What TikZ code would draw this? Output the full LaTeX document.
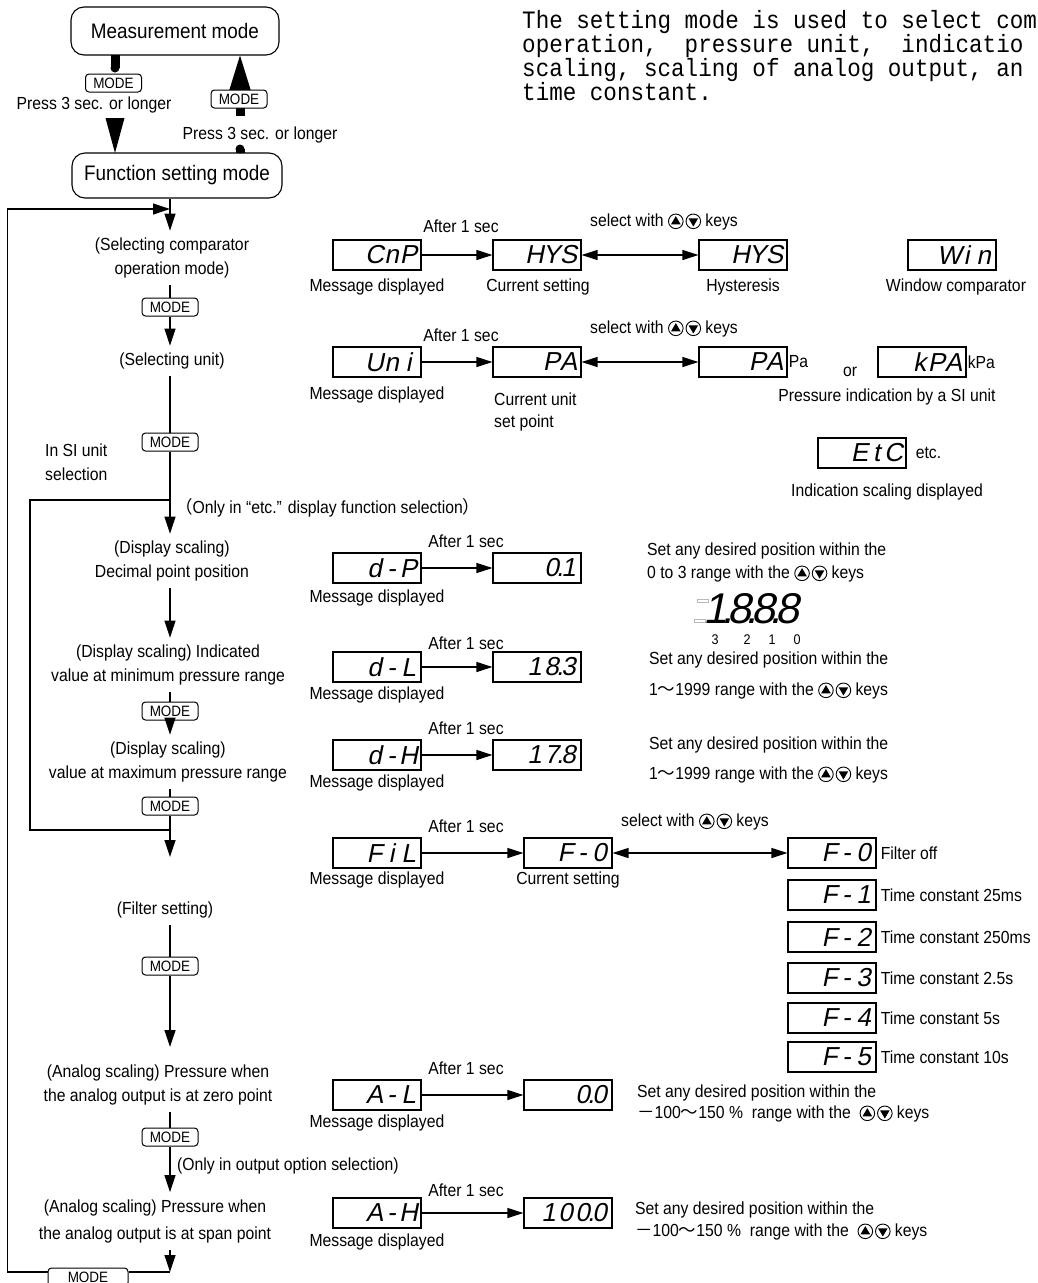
\documentclass[tikz,border=0pt]{standalone}
\usepackage{fontspec}
\setmainfont{Liberation Sans}[FakeStretch=0.9]
\newfontfamily\segfont{Liberation Sans}[FakeSlant=0.2]
\newfontfamily\cjkfont{Noto Sans CJK JP}
\newfontfamily\jmono{Liberation Mono}[FakeStretch=0.903]
\usetikzlibrary{arrows.meta}
\newcommand\sgc[1]{\makebox[17pt][c]{#1}}
\newcommand\sgd{\makebox[0pt][c]{.}}
\newcommand\bgc[1]{\makebox[24pt][c]{#1}}
\newcommand\updnkeys{\tikz[baseline={(0pt,-5.5pt)},x=1pt,y=1pt,line width=0.9pt]{%
  \draw (0,0) circle[radius=7.3];
  \fill (-4.8,-3) -- (4.8,-3) -- (0,5.2) -- cycle;
  \draw (17.5,0) circle[radius=7.3];
  \fill (12.7,3) -- (22.3,3) -- (17.5,-5.2) -- cycle;}}
\begin{document}
\begin{tikzpicture}[x=1pt,y=-1pt,
  lab/.style={font=\fontsize{17.5}{24}\selectfont, inner sep=1pt, align=center},
  flowlab/.style={lab, inner xsep=1pt, inner ysep=7pt},
  disp/.style={draw, line width=1.1pt, minimum width=88pt, minimum height=30pt, inner sep=0pt, text width=80pt, align=right, font=\segfont\fontsize{26}{26}\selectfont},
  modebox/.style={draw, line width=1pt, rounded corners=3.5pt, fill=white, minimum width=56pt, minimum height=18pt, inner sep=0pt, font=\fontsize{15}{15}\selectfont},
  modestate/.style={draw, line width=1.1pt, rounded corners=13pt, inner sep=0pt, font=\fontsize{21}{21}\selectfont},
  flow/.style={line width=1.2pt},
  flowarr/.style={flow, -{Triangle[length=17pt,width=11pt]}},
  rarr/.style={line width=1.2pt, -{Triangle[length=16pt,width=10pt]}},
  darr/.style={line width=1.2pt, {Triangle[length=16pt,width=10pt]}-{Triangle[length=16pt,width=10pt]}},
  para/.style={font=\jmono\fontsize{25}{24}\selectfont, inner sep=0pt, anchor=base west},
  small/.style={font=\fontsize{14}{14}\selectfont, inner sep=0pt},
  bigdisp/.style={font=\segfont\fontsize{43}{43}\selectfont, inner sep=0pt}
]
\useasboundingbox (0,0) rectangle (1037,1283);
\fill[white] (0,0) rectangle (1037,1283);

% ---------- top states ----------
\node[modestate, minimum width=208pt, minimum height=48pt] (meas) at (175,31) {Measurement mode};
\node[modestate, minimum width=210pt, minimum height=45pt] (fsm) at (177,175.5) {Function setting mode};

% thick arrows
\fill (110.5,55) rectangle (119.5,68);
\fill (115,68) circle[radius=4.5];
\fill (105.5,118) -- (124.5,118) -- (115,153) -- cycle;
\fill (229,91) -- (251,91) -- (240,55.5) -- cycle;
\fill (235.5,89) rectangle (244.5,116);
\fill (235.5,149) rectangle (244.5,153);
\fill (240,149) circle[radius=4.5];

\node[modebox] (mtl) at (113.5,83) {MODE};
\node[modebox] (mtr) at (239,99) {MODE};
\node[lab] (ptl) at (94,105) {Press 3 sec. or longer};
\node[lab] (ptr) at (260,135) {Press 3 sec. or longer};

% ---------- paragraph (cut by the right edge, as printed) ----------
\begin{scope}
\clip (0,0) rectangle (1037,1283);
\node[para] (p1) at (522,28) {The setting mode is used to select com};
\node[para] (p2) at (522,52) {operation,\ \ pressure unit,\ \ indicatio};
\node[para] (p3) at (522,76) {scaling, scaling of analog output, an};
\node[para] (p4) at (522,100) {time constant.};
\end{scope}

% ---------- flow labels ----------
\node[flowlab] (cmp) at (172,258) {(Selecting comparator\\operation mode)};
\node[modebox] (m1) at (170,307) {MODE};
\node[flowlab] (unit) at (172,361) {(Selecting unit)};
\node[modebox] (m2) at (170,442) {MODE};
\node[lab, align=left, anchor=west] (si) at (44,462) {In SI unit\\selection};
\node[lab, anchor=west] (onlyetc) at (174,508) {{\cjkfont （}Only in “etc.” display function selection{\cjkfont ）}};
\node[flowlab] (dp) at (172,561) {(Display scaling)\\Decimal point position};
\node[flowlab] (dl) at (168,665) {(Display scaling) Indicated\\value at minimum pressure range};
\node[modebox] (m3) at (170,711) {MODE};
\node[flowlab] (dh) at (168,762) {(Display scaling)\\value at maximum pressure range};
\node[modebox] (m4) at (170,806) {MODE};
\node[flowlab] (fs) at (165,910) {(Filter setting)};
\node[modebox] (m5) at (170,966) {MODE};
\node[flowlab] (al) at (158,1085) {(Analog scaling) Pressure when\\the analog output is at zero point};
\node[modebox] (m6) at (170,1137) {MODE};
\node[lab, anchor=west] (onlyout) at (176,1166) {(Only in output option selection)};
\node[flowlab, font=\fontsize{17.5}{27}\selectfont] (ah) at (155,1221) {(Analog scaling) Pressure when\\the analog output is at span point};
\node[modebox, minimum width=80pt] (mb) at (88,1277) {MODE};

% ---------- flow connectors ----------
\coordinate (ft) at (170,857);
\coordinate (at) at (170,1047);
\coordinate (cb) at (170,1272);
\coordinate (cl) at (7.5,1272);
\coordinate (ct) at (7.5,209);
\coordinate (cm) at (170,209);
\coordinate (j1) at (170,500);
\coordinate (i1) at (30,500);
\coordinate (i2) at (30,830);
\coordinate (j2) at (170,830);

\draw[flowarr] (fsm.south -| m1) -- (m1 |- cmp.north);
\draw[flow] (m1 |- cmp.south) -- (m1.north);
\draw[flowarr] (m1.south) -- (m1 |- unit.north);
\draw[flow] (m2 |- unit.south) -- (m2.north);
\draw[flowarr] (m2.south) -- (m2 |- dp.north);
\draw[flowarr] (m2 |- dp.south) -- (m3 |- dl.north);
\draw[flow] (m3 |- dl.south) -- (m3.north);
\draw[flowarr] (m3.south) -- (m3 |- dh.north);
\draw[flow] (m4 |- dh.south) -- (m4.north);
\draw[flowarr] (m4.south) -- (ft);
\draw[flow] (m5 |- fs.south) -- (m5.north);
\draw[flowarr] (m5.south) -- (at);
\draw[flow] (m6 |- al.south) -- (m6.north);
\draw[flowarr] (m6.south) -- (m6 |- ah.north);
\draw[flowarr] (cb |- ah.south) -- (cb);
\draw[flow] (cb) -- (cb -| mb.east);
\draw[flowarr] (cb -| mb.west) -- (cl) -- (ct) -- (cm);
\draw[flow] (j1) -- (i1) -- (i2) -- (j2);

% ---------- row 1 ----------
\node[disp] (cnp) at (377,255) {\sgc{C}\sgc{n}\sgc{P}};
\node[disp] (hys1) at (537,255) {\sgc{H}\sgc{Y}\sgc{S}};
\node[disp] (hys2) at (743,255) {\sgc{H}\sgc{Y}\sgc{S}};
\node[disp] (win) at (952,255) {\sgc{W}\sgc{i}\sgc{n}};
\draw[rarr] (cnp) -- (hys1);
\draw[darr] (hys1) -- (hys2);
\node[lab] (a1) at (461,226) {After 1 sec};
\node[lab] (s1) at (664,222) {select with \updnkeys\ keys};
\node[lab] (md1) at (377,287) {Message displayed};
\node[lab] (cs1) at (538,287) {Current setting};
\node[lab] (hy) at (743,287) {Hysteresis};
\node[lab] (wc) at (956,287) {Window comparator};

% ---------- row 2 ----------
\node[disp] (uni) at (377,362) {\sgc{U}\sgc{n}\sgc{i}};
\node[disp] (pa1) at (537,362) {\sgc{P}\sgc{A}};
\node[disp] (pa2) at (743,362) {\sgc{P}\sgc{A}};
\node[lab, anchor=west] (pau) at (pa2.east) {Pa};
\node[lab] (or) at (850,372) {or};
\node[disp] (kpa) at (922,362) {\sgc{k}\sgc{P}\sgc{A}};
\node[lab, anchor=west] (kpau) at (kpa.east) {kPa};
\draw[rarr] (uni) -- (pa1);
\draw[darr] (pa1) -- (pa2);
\node[lab] (a2) at (461,335) {After 1 sec};
\node[lab] (s2) at (664,329) {select with \updnkeys\ keys};
\node[lab] (md2) at (377,395) {Message displayed};
\node[lab, align=left, anchor=north west, font=\fontsize{17.5}{22}\selectfont] (cu) at (493,392) {Current unit\\set point};
\node[lab] (psi) at (887,397) {Pressure indication by a SI unit};
\node[disp] (etcd) at (862,453) {\sgc{E}\sgc{t}\sgc{C}};
\node[lab, anchor=west, xshift=8pt] (etcl) at (etcd.east) {etc.};
\node[lab] (isd) at (887,492) {Indication scaling displayed};

% ---------- row 3 ----------
\node[disp] (dpd) at (377,568) {\sgc{d}\sgc{-}\sgc{P}};
\node[disp] (v01) at (537,568) {\sgc{0}\sgd\sgc{1}};
\draw[rarr] (dpd) -- (v01);
\node[lab] (a3) at (466,541) {After 1 sec};
\node[lab] (md3) at (377,598) {Message displayed};
\node[lab, anchor=west] (t3a) at (646,551) {Set any desired position within the};
\node[lab, anchor=west] (t3b) at (646,574) {0 to 3 range with the \updnkeys\ keys};
\draw[gray!55, line width=0.6pt] (697,599.5) rectangle (708,602.5);
\draw[gray!55, line width=0.6pt] (694,619.5) rectangle (705,622.5);
\node[bigdisp, anchor=west] (bigd) at (703,609) {\bgc{1}\sgd\bgc{8}\sgd\bgc{8}\sgd\bgc{8}};
\node[small] (d3) at (715,640) {3};
\node[small] (d2) at (747,640) {2};
\node[small] (d1) at (772,640) {1};
\node[small] (d0) at (797,640) {0};

% ---------- row 4 ----------
\node[disp] (dld) at (377,667) {\sgc{d}\sgc{-}\sgc{L}};
\node[disp] (v183) at (537,667) {\sgc{1}\sgc{8}\sgd\sgc{3}};
\draw[rarr] (dld) -- (v183);
\node[lab] (a4) at (466,643) {After 1 sec};
\node[lab] (md4) at (377,695) {Message displayed};
\node[lab, anchor=west] (t4a) at (648,660) {Set any desired position within the};
\node[lab, anchor=west] (t4b) at (648,691) {1{\cjkfont ～}1999 range with the \updnkeys\ keys};

% ---------- row 5 ----------
\node[disp] (dhd) at (377,755) {\sgc{d}\sgc{-}\sgc{H}};
\node[disp] (v178) at (537,755) {\sgc{1}\sgc{7}\sgd\sgc{8}};
\draw[rarr] (dhd) -- (v178);
\node[lab] (a5) at (466,728) {After 1 sec};
\node[lab] (md5) at (377,783) {Message displayed};
\node[lab, anchor=west] (t5a) at (648,745) {Set any desired position within the};
\node[lab, anchor=west] (t5b) at (648,775) {1{\cjkfont ～}1999 range with the \updnkeys\ keys};

% ---------- row 6 (filter) ----------
\node[disp] (fil) at (377,853) {\sgc{F}\sgc{i}\sgc{L}};
\node[disp] (f0c) at (568,853) {\sgc{F}\sgc{-}\sgc{0}};
\draw[rarr] (fil) -- (f0c);
\node[lab] (a6) at (466,826) {After 1 sec};
\node[lab] (s6) at (695,822) {select with \updnkeys\ keys};
\node[lab] (md6) at (377,880) {Message displayed};
\node[lab] (cs6) at (568,880) {Current setting};
\node[disp] (f0) at (832,853) {\sgc{F}\sgc{-}\sgc{0}};
\node[disp] (f1) at (832,895) {\sgc{F}\sgc{-}\sgc{1}};
\node[disp] (f2) at (832,937) {\sgc{F}\sgc{-}\sgc{2}};
\node[disp] (f3) at (832,978) {\sgc{F}\sgc{-}\sgc{3}};
\node[disp] (f4) at (832,1018) {\sgc{F}\sgc{-}\sgc{4}};
\node[disp] (f5) at (832,1057) {\sgc{F}\sgc{-}\sgc{5}};
\draw[darr] (f0c) -- (f0);
\node[lab, anchor=west, xshift=3pt] (l0) at (f0.east) {Filter off};
\node[lab, anchor=west, xshift=3pt] (l1) at (f1.east) {Time constant 25ms};
\node[lab, anchor=west, xshift=3pt] (l2) at (f2.east) {Time constant 250ms};
\node[lab, anchor=west, xshift=3pt] (l3) at (f3.east) {Time constant 2.5s};
\node[lab, anchor=west, xshift=3pt] (l4) at (f4.east) {Time constant 5s};
\node[lab, anchor=west, xshift=3pt] (l5) at (f5.east) {Time constant 10s};

% ---------- row 7 ----------
\node[disp] (ald) at (377,1095) {\sgc{A}\sgc{-}\sgc{L}};
\node[disp] (v00) at (568,1095) {\sgc{0}\sgd\sgc{0}};
\draw[rarr] (ald) -- (v00);
\node[lab] (a7) at (466,1068) {After 1 sec};
\node[lab] (md7) at (377,1123) {Message displayed};
\node[lab, anchor=west] (t7a) at (636,1093) {Set any desired position within the};
\node[lab, anchor=west] (t7b) at (636,1114) {{\cjkfont －}100{\cjkfont ～}150 \%\ \ range with the\ \ \updnkeys\ keys};

% ---------- row 8 ----------
\node[disp] (ahd) at (377,1213) {\sgc{A}\sgc{-}\sgc{H}};
\node[disp] (v1000) at (568,1213) {\sgc{1}\sgc{0}\sgc{0}\sgd\sgc{0}};
\draw[rarr] (ahd) -- (v1000);
\node[lab] (a8) at (466,1190) {After 1 sec};
\node[lab] (md8) at (377,1242) {Message displayed};
\node[lab, anchor=west] (t8a) at (634,1210) {Set any desired position within the};
\node[lab, anchor=west] (t8b) at (634,1232) {{\cjkfont －}100{\cjkfont ～}150 \%\ \ range with the\ \ \updnkeys\ keys};
\end{tikzpicture}
\end{document}
